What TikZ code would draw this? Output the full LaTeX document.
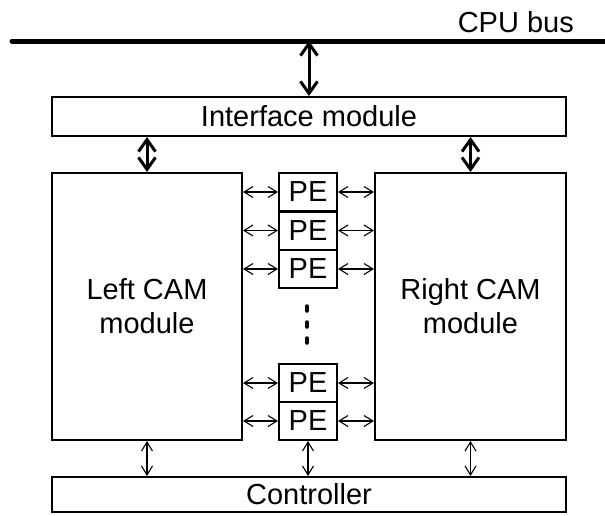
\documentclass[tikz,border=0pt]{standalone}
\usepackage{fontspec}
\setmainfont{Liberation Sans}
\usetikzlibrary{arrows.meta}
\begin{document}
\begin{tikzpicture}[x=1pt,y=-1pt,
  box/.style={draw, line width=2pt, inner sep=0pt, font=\fontsize{29}{34}\selectfont},
  pebox/.style={box, minimum width=58pt, minimum height=38pt},
  bigarrow/.style={line width=3pt, {Straight Barb[length=12pt,width=17pt]}-{Straight Barb[length=12pt,width=17pt]}},
  thinarrow/.style={line width=1.1pt, {Straight Barb[length=9pt,width=11pt]}-{Straight Barb[length=9pt,width=11pt]}},
  busline/.style={line width=5pt, line cap=round},
  dotmark/.style={line width=3.5pt, line cap=round}]
\useasboundingbox (0,0) rectangle (605,515);
% bus
\coordinate (busL) at (12,41);
\coordinate (busR) at (610,41);
\draw[busline] (busL) -- (busR);
\node[anchor=base east, inner sep=0pt, font=\fontsize{29}{34}\selectfont] (cpulbl) at (574,32) {CPU bus};
% boxes
\node[box, minimum width=514pt, minimum height=39pt] (iface) at (309,116.5) {Interface module};
\node[box, minimum width=190pt, minimum height=267pt, align=center] (lcam) at (147,306.5) {Left CAM\\module};
\node[box, minimum width=191pt, minimum height=267pt, align=center] (rcam) at (470.5,306.5) {Right CAM\\module};
\node[box, minimum width=514pt, minimum height=35pt] (ctrl) at (309,494.5) {Controller};
\node[pebox] (pe1) at (308,192) {PE};
\node[pebox] (pe2) at (308,230.5) {PE};
\node[pebox] (pe3) at (308,269) {PE};
\node[pebox] (pe4) at (308,383) {PE};
\node[pebox] (pe5) at (308,421) {PE};
% dots
\draw[dotmark] (307,306) -- (307,311);
\draw[dotmark] (307,322) -- (307,327);
\draw[dotmark] (307,338) -- (307,343);
% arrows
\draw[bigarrow] (iface.north |- busL) -- (iface.north);
\draw[bigarrow] (iface.south -| lcam.north) -- (lcam.north);
\draw[bigarrow] (iface.south -| rcam.north) -- (rcam.north);
\foreach \p in {pe1,pe2,pe3,pe4,pe5}{
  \draw[thinarrow] (lcam.east |- \p) -- (\p.west);
  \draw[thinarrow] (\p.east) -- (rcam.west |- \p);
}
\draw[thinarrow] (lcam.south) -- (ctrl.north -| lcam.south);
\draw[thinarrow] (pe5.south) -- (ctrl.north -| pe5.south);
\draw[thinarrow] (rcam.south) -- (ctrl.north -| rcam.south);
\end{tikzpicture}
\end{document}
